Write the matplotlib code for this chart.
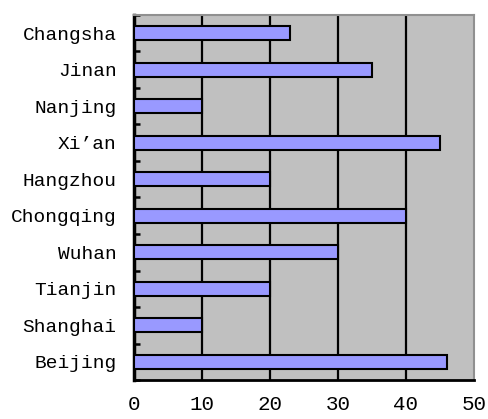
import matplotlib
matplotlib.use("Agg")
import matplotlib.pyplot as plt
import numpy as np

cities = ["Beijing", "Shanghai", "Tianjin", "Wuhan", "Chongqing",
          "Hangzhou", "Xi\u2019an", "Nanjing", "Jinan", "Changsha"]
values = [46, 10, 20, 30, 40, 20, 45, 10, 35, 23]
xticks = [0, 10, 20, 30, 40, 50]

plt.rcParams['font.family'] = ['Liberation Mono', 'DejaVu Sans']

fig = plt.figure(figsize=(4.88, 4.19), dpi=100)
ax = fig.add_axes([134/488, 39/419, 340/488, 365/419])
ax.set_facecolor("#C0C0C0")

y = np.arange(len(cities))
ax.barh(y, values, height=0.37, color="#9999FF", edgecolor="black",
        linewidth=1.5, zorder=3)

ax.set_xlim(0, 50)
ax.set_ylim(-0.5, len(cities) - 0.5)

for xv in xticks[1:-1]:
    ax.axvline(xv, color="black", linewidth=1.6, zorder=2)

ax.set_xticks(xticks)
ax.set_xticklabels([str(v) for v in xticks], fontsize=15)
ax.tick_params(axis='x', which='both', length=0, pad=11)

ax.set_yticks(y)
ax.set_yticklabels(cities, fontsize=14)
ax.set_yticks(np.arange(len(cities) + 1) - 0.5, minor=True)
ax.tick_params(axis='y', which='major', length=0, pad=12.5)
ax.tick_params(axis='y', which='minor', direction='in', length=4.5, width=1.8, color='black')

ax.spines['left'].set_linewidth(2.5)
ax.spines['left'].set_color('black')
ax.spines['bottom'].set_linewidth(2)
ax.spines['bottom'].set_color('black')
ax.spines['top'].set_color('#909090')
ax.spines['top'].set_linewidth(1.5)
ax.spines['right'].set_color('#909090')
ax.spines['right'].set_linewidth(1.5)

fig.savefig("out.png", dpi=100)
